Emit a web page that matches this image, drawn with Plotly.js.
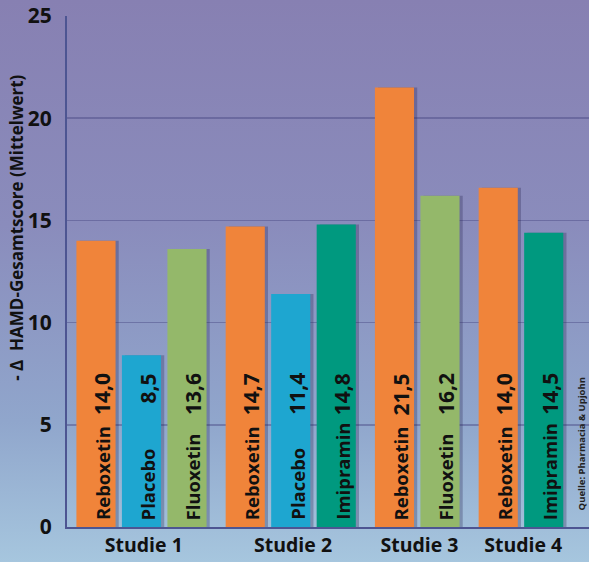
<!DOCTYPE html>
<html>
<head>
<meta charset="utf-8">
<script src="https://cdn.plot.ly/plotly-3.0.1.min.js"></script>
<style>
html,body{margin:0;padding:0;}
#chart{width:589px;height:562px;background:linear-gradient(to bottom,#8780b2 0%,#8a8cbc 40%,#90a6cc 75%,#a6c6de 100%);}
</style>
</head>
<body>
<div id="chart"></div>
<script>
// Data
const studies   = ['Studie 1','Studie 1','Studie 1','Studie 2','Studie 2','Studie 2','Studie 3','Studie 3','Studie 4','Studie 4'];
const drugs     = ['Reboxetin','Placebo','Fluoxetin','Reboxetin','Placebo','Imipramin','Reboxetin','Fluoxetin','Reboxetin','Imipramin'];
const barHeights = [14.0, 8.4, 13.6, 14.7, 11.4, 14.8, 21.5, 16.2, 16.6, 14.4];
const reported   = [14.0, 8.5, 13.6, 14.7, 11.4, 14.8, 21.5, 16.2, 14.0, 14.5];
const yTicks = [0, 5, 10, 15, 20, 25];
const yTitle = '- \u0394  HAMD-Gesamtscore (Mittelwert)';
const source = 'Quelle: Pharmacia & Upjohn';

const drugColors = {Reboxetin:'#f0843a', Placebo:'#1ea6d0', Fluoxetin:'#94b86a', Imipramin:'#00997f'};

// slot positions: step 1 within a study, larger step between studies
const pos = [];
let p = 0;
for (let i = 0; i < studies.length; i++) {
  if (i > 0) p += (studies[i] !== studies[i-1]) ? 1.28 : 1;
  pos.push(p);
}
const groupNames = [...new Set(studies)];
const groupCenters = groupNames.map(g => {
  const ps = pos.filter((_, i) => studies[i] === g);
  return ps.reduce((a, b) => a + b, 0) / ps.length + 0.05;
});

const fmt = v => v.toFixed(1).replace('.', ',');
const bold = {family:'Open Sans, Noto Sans, sans-serif', weight:'bold', color:'#111'};

const shadow = {
  type:'bar', x: pos, y: barHeights, width: 0.86, offset: -0.36,
  marker:{color:'rgba(40,35,80,0.3)'}, hoverinfo:'skip', showlegend:false
};
const bars = {
  type:'bar', x: pos, y: barHeights, width: 0.86,
  marker:{color: drugs.map(d => drugColors[d]), line:{width:0}},
  hoverinfo:'skip', showlegend:false
};

const annotations = [];
drugs.forEach((d, i) => {
  annotations.push({x: pos[i], y: 0, xref:'x', yref:'y', text: d, textangle: -90,
    showarrow:false, xanchor:'center', yanchor:'bottom', xshift: 6, yshift: 5,
    font: Object.assign({size: 18.5}, bold)});
  annotations.push({x: pos[i], y: 8.27, xref:'x', yref:'y', text: fmt(reported[i]), textangle: -90,
    showarrow:false, xanchor:'center', yanchor:'top', xshift: 6, yshift: -13,
    font: Object.assign({size: 21}, bold)});
});
annotations.push({xref:'paper', yref:'paper', x: -0.079, y: 0.585, text: yTitle, textangle: -90,
  showarrow:false, xanchor:'center', yanchor:'middle', xshift: -10, font: Object.assign({size: 17}, bold)});
annotations.push({xref:'paper', yref:'paper', x: 0.985, y: 0.162, text: source, textangle: -90,
  showarrow:false, xanchor:'center', yanchor:'middle',
  font:{family:'Open Sans, sans-serif', size: 9.5, weight:'bold', color:'#222'}});

const layout = {
  width: 589, height: 562,
  margin:{l:67, r:0, t:16, b:35, pad:0},
  paper_bgcolor:'rgba(0,0,0,0)', plot_bgcolor:'rgba(0,0,0,0)',
  barmode:'overlay',
  xaxis:{range:[-0.637, 10.835], tickvals: groupCenters, ticktext: groupNames,
    showgrid:false, zeroline:false, showline:true, linecolor:'#4d5592', linewidth:2,
    ticks:'', tickfont: Object.assign({size: 19.5}, bold), fixedrange:true},
  yaxis:{range:[0, 25], tickvals: yTicks, showgrid:true, gridcolor:'rgba(70,70,130,0.45)', gridwidth:1.5,
    zeroline:false, showline:true, linecolor:'#4d5592', linewidth:2, ticks:'',
    ticklabelstandoff: 9, tickfont: Object.assign({size: 21}, bold), fixedrange:true},
  annotations: annotations,
  showlegend:false
};

Plotly.newPlot('chart', [shadow, bars], layout, {displayModeBar:false, staticPlot:true});
</script>
</body>
</html>
